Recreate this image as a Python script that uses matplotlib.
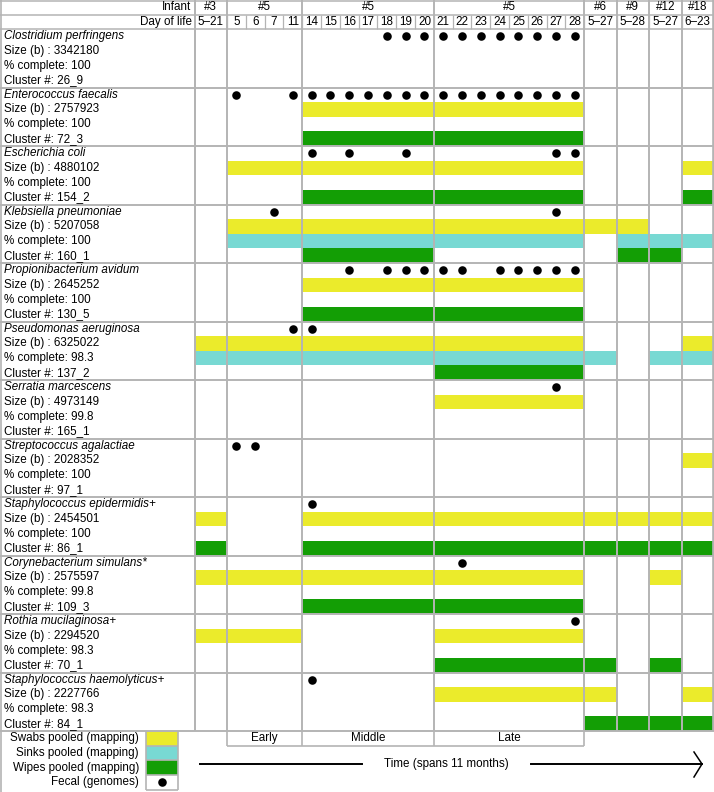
import numpy as np
import matplotlib.pyplot as plt

plt.rcParams['font.family'] = ['Liberation Sans', 'DejaVu Sans']

# --- table content ---
cols = ['#3', '5', '6', '7', '11', '14', '15', '16', '17', '18', '19', '20',
        '21', '22', '23', '24', '25', '26', '27', '28', '#6', '#9', '#12', '#18']
day_labels = ['5–21', '5', '6', '7', '11', '14', '15', '16', '17', '18', '19', '20',
              '21', '22', '23', '24', '25', '26', '27', '28', '5–27', '5–28', '5–27', '6–23']
infant_groups = [('#3', 1), ('#5', 4), ('#5', 7), ('#5', 8), ('#6', 1), ('#9', 1), ('#12', 1), ('#18', 1)]
periods = ['Early', 'Middle', 'Late']

species = ['Clostridium perfringens', 'Enterococcus faecalis', 'Escherichia coli',
           'Klebsiella pneumoniae', 'Propionibacterium avidum', 'Pseudomonas aeruginosa',
           'Serratia marcescens', 'Streptococcus agalactiae', 'Staphylococcus epidermidis+',
           'Corynebacterium simulans*', 'Rothia mucilaginosa+', 'Staphylococcus haemolyticus+']
sizes = [3342180, 2757923, 4880102, 5207058, 2645252, 6325022,
         4973149, 2028352, 2454501, 2575597, 2294520, 2227766]
complete = ['100', '100', '100', '100', '100', '98.3', '99.8', '100', '100', '99.8', '98.3', '98.3']
clusters = ['26_9', '72_3', '154_2', '160_1', '130_5', '137_2',
            '165_1', '97_1', '86_1', '109_3', '70_1', '84_1']

# fecal genome detections (columns with a dot)
fecal = [
    ['18', '19', '20', '21', '22', '23', '24', '25', '26', '27', '28'],
    ['5', '11', '14', '15', '16', '17', '18', '19', '20', '21', '22', '23', '24', '25', '26', '27', '28'],
    ['14', '16', '19', '27', '28'],
    ['7', '27'],
    ['16', '18', '19', '20', '21', '22', '24', '25', '26', '27', '28'],
    ['11', '14'],
    ['27'],
    ['5', '6'],
    ['14'],
    ['22'],
    ['28'],
    ['14'],
]
# pooled mapping, as (first column, last column) segments
swabs = [
    [],
    [('14', '28')],
    [('5', '28'), ('#18', '#18')],
    [('5', '#9')],
    [('14', '28')],
    [('#3', '28'), ('#18', '#18')],
    [('21', '28')],
    [('#18', '#18')],
    [('#3', '#3'), ('14', '#18')],
    [('#3', '28'), ('#12', '#12')],
    [('#3', '11'), ('21', '28')],
    [('21', '#6'), ('#18', '#18')],
]
sinks = [
    [], [], [],
    [('5', '28'), ('#9', '#18')],
    [],
    [('#3', '#6'), ('#12', '#18')],
    [], [], [], [], [], [],
]
wipes = [
    [],
    [('14', '28')],
    [('14', '28'), ('#18', '#18')],
    [('14', '20'), ('#9', '#12')],
    [('14', '28')],
    [('21', '28')],
    [], [],
    [('#3', '#3'), ('14', '#18')],
    [('14', '28')],
    [('21', '#6'), ('#12', '#12')],
    [('#6', '#18')],
]

legend_labels = ['Swabs pooled (mapping)', 'Sinks pooled (mapping)', 'Wipes pooled (mapping)', 'Fecal (genomes)']

YEL, CYA, GRN = '#ebeb2b', '#78d9d3', '#139e05'
GRID = '#b4b4b4'
FS = 8.4

# --- geometry (pixels) ---
W, H = 714, 792
label_w = 194.5
widths = [32.5] + [18.8] * 19 + [32.45] * 4
edges = label_w + np.concatenate([[0], np.cumsum(widths)])
centers = (edges[:-1] + edges[1:]) / 2
ci = {c: i for i, c in enumerate(cols)}
y_body = 29.0
sub_h = 14.625
blk_h = 4 * sub_h
y_end = y_body + blk_h * len(species)

fig = plt.figure(figsize=(W / 100, H / 100), dpi=100)
ax = fig.add_axes([0, 0, 1, 1])
ax.set_xlim(0, W)
ax.set_ylim(H, 0)
ax.axis('off')

# bars
for k in range(len(species)):
    top = y_body + k * blk_h
    for row, segs, colr in [(1, swabs[k], YEL), (2, sinks[k], CYA), (3, wipes[k], GRN)]:
        for a, b in segs:
            x0, x1 = edges[ci[a]], edges[ci[b] + 1]
            ax.barh(top + (row + 0.5) * sub_h, x1 - x0, left=x0, height=sub_h,
                    color=colr, zorder=1)
    xs = [centers[ci[d]] for d in fecal[k]]
    ax.scatter(xs, [top + 0.5 * sub_h] * len(xs), s=38, color='black', zorder=4, linewidths=0)
    lines = [(species[k], 'italic'), (f'Size (b) : {sizes[k]}', 'normal'),
             (f'% complete: {complete[k]}', 'normal'), (f'Cluster #: {clusters[k]}', 'normal')]
    for j, (t, st) in enumerate(lines):
        ax.text(4, top + (j + 0.5) * sub_h, t, fontsize=FS, style=st, va='center', ha='left', zorder=5)

# grid lines
group_idx = [0]
for _, n in infant_groups:
    group_idx.append(group_idx[-1] + n)
gx = [edges[i] for i in group_idx]
ax.vlines([label_w], 0, y_end, color=GRID, lw=1.4, zorder=3)
ax.vlines(gx, 0, y_end, color=GRID, lw=1.4, zorder=3)
ax.vlines(edges[1:-1], 14.5, y_body, color=GRID, lw=0.9, zorder=3)
ax.vlines([0.7], 0, H, color=GRID, lw=1.2, zorder=3)
ax.vlines([W - 0.7], 0, y_end, color=GRID, lw=1.2, zorder=3)
ax.hlines([0.7, 14.5, y_body], 0, W, color=GRID, lw=1.1, zorder=3)
ax.hlines(y_body + blk_h * np.arange(1, len(species) + 1), 0, W, color=GRID, lw=1.4, zorder=3)

# header text
ax.text(label_w - 3, 7.5, 'Infant', fontsize=FS, ha='right', va='center')
ax.text(label_w - 3, 22, 'Day of life', fontsize=FS, ha='right', va='center')
for (name, n), i0 in zip(infant_groups, group_idx[:-1]):
    ax.text((edges[i0] + edges[i0 + n]) / 2, 7.5, name, fontsize=FS, ha='center', va='center')
for c, t in zip(centers, day_labels):
    ax.text(c, 22, t, fontsize=FS, ha='center', va='center')

# period row
y_p = y_end + sub_h
p_idx = group_idx[1:5]
ax.vlines([edges[i] for i in p_idx], y_end, y_p, color=GRID, lw=1.2, zorder=3)
ax.hlines([y_p], edges[p_idx[0]], edges[p_idx[-1]], color=GRID, lw=1.2, zorder=3)
for p, a, b in zip(periods, p_idx[:-1], p_idx[1:]):
    ax.text((edges[a] + edges[b]) / 2, y_end + sub_h / 2, p, fontsize=FS, ha='center', va='center')

# legend
sw0, sw1 = 146, 178
for j, (lab, colr) in enumerate(zip(legend_labels, [YEL, CYA, GRN, 'white'])):
    yc = y_end + (j + 0.5) * sub_h
    ax.barh(yc, sw1 - sw0, left=sw0, height=sub_h, color=colr, zorder=1)
    ax.text(139, yc, lab, fontsize=FS, ha='right', va='center')
ax.scatter([(sw0 + sw1) / 2], [y_end + 3.5 * sub_h], s=38, color='black', zorder=4, linewidths=0)
ax.vlines([sw0, sw1], y_end, y_end + 4 * sub_h, color=GRID, lw=1.2, zorder=3)
ax.hlines(y_end + sub_h * np.arange(1, 5), sw0, sw1, color=GRID, lw=1.2, zorder=3)

# time arrow
ya = 764
ax.plot([200, 362], [ya, ya], color='black', lw=1.4)
ax.plot([531, 702], [ya, ya], color='black', lw=1.4)
ax.plot([694, 702, 694], [752, ya, 777], color='black', lw=1.1)
ax.text(446, ya, 'Time (spans 11 months)', fontsize=FS, ha='center', va='center')

fig.savefig('out.png', dpi=100)
